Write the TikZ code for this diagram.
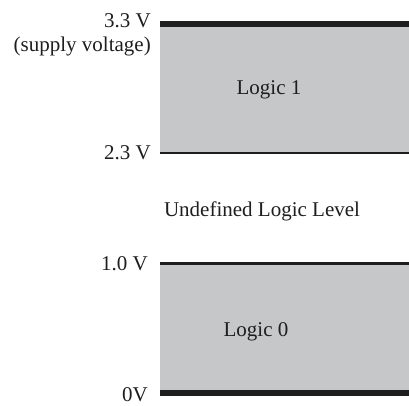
\documentclass[tikz,border=0pt]{standalone}
\usepackage{fontspec}
\setmainfont{Liberation Serif}
\definecolor{band}{HTML}{C6C7C9}
\definecolor{ink}{HTML}{1E1E1E}
\begin{document}
\begin{tikzpicture}[x=1pt,y=-1pt,
  lbl/.style={font=\fontsize{21}{24}\selectfont, text=ink, inner sep=0pt},
  vlbl/.style={lbl, anchor=east},
  thick line/.style={line width=6pt, draw=ink},
  thin line/.style={line width=2.6pt, draw=ink}]
\useasboundingbox (0,0) rectangle (409,405);
% Logic 1 band
\fill[band] (160,24) rectangle (409,153);
\draw[thick line] (160,24) -- (409,24);
\draw[thin line] (160,153) -- (409,153);
% Logic 0 band
\fill[band] (160,263.5) rectangle (409,393);
\draw[thin line] (160,263.5) -- (409,263.5);
\draw[thick line] (160,393) -- (409,393);
% labels
\node[vlbl] (v33) at (151,21) {3.3 V};
\node[vlbl] (sup) at (151,46) {(supply voltage)};
\node[vlbl] (v23) at (151,153) {2.3 V};
\node[vlbl] (v10) at (148,264) {1.0 V};
\node[vlbl] (v0) at (148,395) {0V};
\node[lbl] (l1) at (269,90) {Logic 1};
\node[lbl] (l0) at (256,332) {Logic 0};
\node[lbl] (und) at (262,211) {Undefined Logic Level};
\end{tikzpicture}
\end{document}
